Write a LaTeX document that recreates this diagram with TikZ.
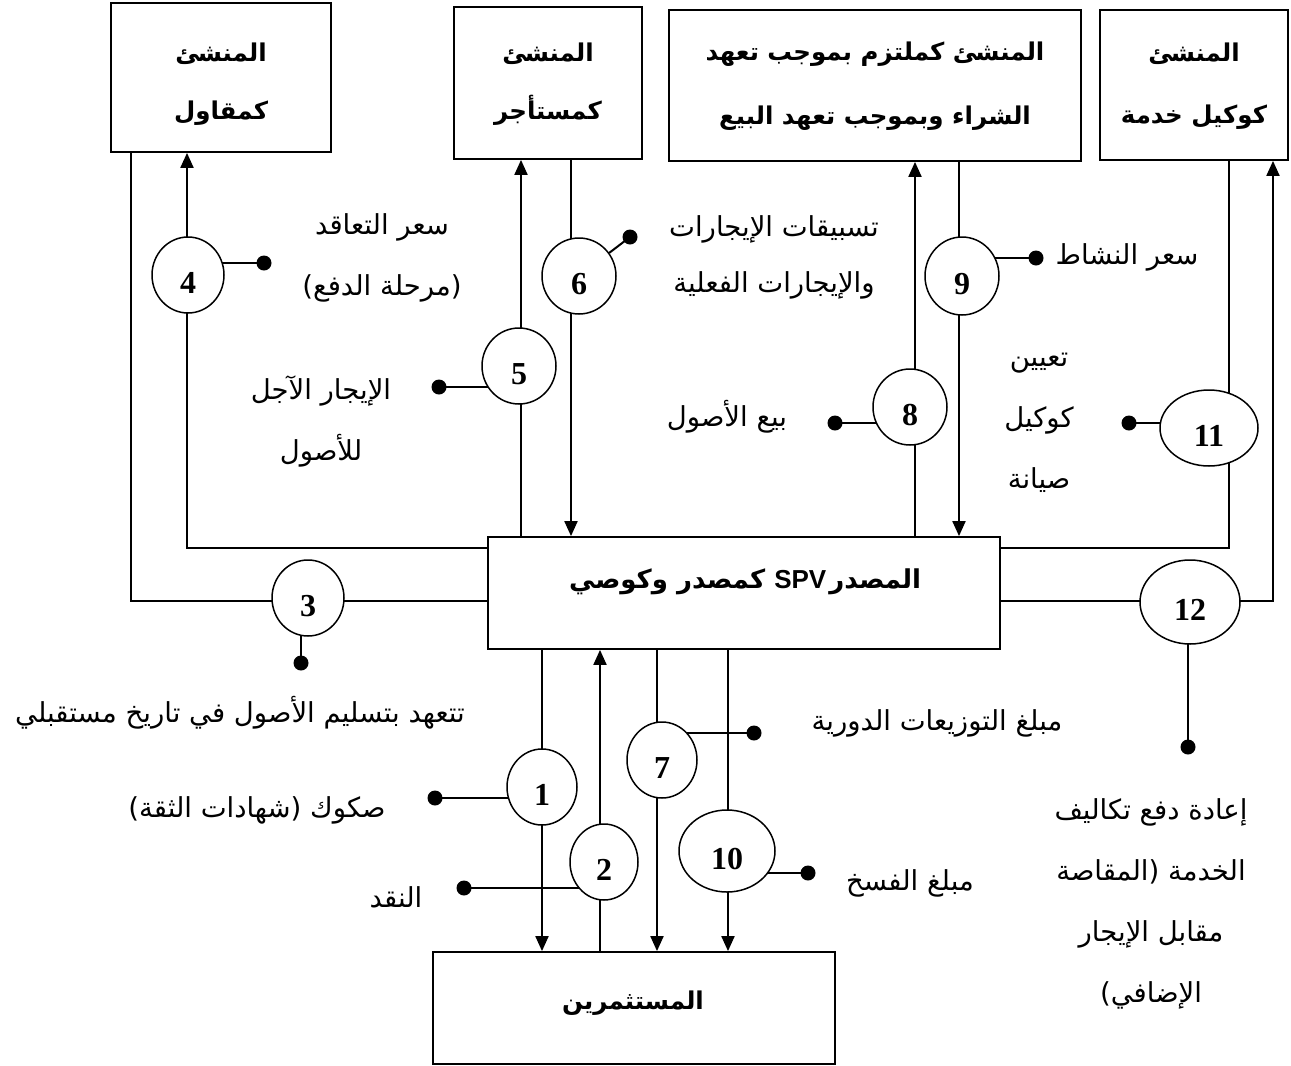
\documentclass[tikz,border=0pt]{standalone}
\usepackage{fontspec}
\usetikzlibrary{arrows.meta,backgrounds,shapes.geometric}
\TeXXeTstate=1
\newfontfamily\arabicfont[Script=Arabic]{DejaVu Sans}
\newfontfamily\numfont{Liberation Serif}
\newfontfamily\latinsans{Liberation Sans}
\newcommand\artxt[1]{{\arabicfont\beginR #1\endR}}

\tikzset{
  box/.style={draw, line width=1.8pt, inner sep=0pt},
  boxtext/.style={align=center, inner sep=0pt,
    font=\arabicfont\bfseries\fontsize{24.5}{58}\selectfont},
  num/.style={ellipse, draw, line width=1.5pt, fill=white, inner sep=0pt,
    text height=36pt, text depth=0pt,
    font=\numfont\bfseries\fontsize{32}{32}\selectfont},
  lbl/.style={align=center, inner sep=0pt,
    font=\arabicfont\fontsize{27.5}{61}\selectfont},
  link/.style={line width=1.4pt},
  arr/.style={line width=2pt, -{Triangle[width=13pt,length=15pt]}},
  tie/.style={line width=2pt},
}

\begin{document}
\begin{tikzpicture}[x=1pt,y=-1pt]
\useasboundingbox (0,0) rectangle (1291,1066);

% parties
\node[box, minimum width=220pt, minimum height=149pt] (A) at (221,77.5) {};
\node[box, minimum width=188pt, minimum height=152pt] (B) at (548,83) {};
\node[box, minimum width=412pt, minimum height=151pt] (C) at (875,85.5) {};
\node[box, minimum width=188pt, minimum height=150pt] (D) at (1194,85) {};
\node[box, minimum width=512pt, minimum height=112pt] (SPV) at (744,593) {};
\node[box, minimum width=402pt, minimum height=112pt] (INV) at (634,1008) {};

\node[boxtext] (At) at (A.center |- 0,84) {\artxt{المنشئ}\\\artxt{كمقاول}};
\node[boxtext] (Bt) at (B.center |- 0,84) {\artxt{المنشئ}\\\artxt{كمستأجر}};
\node[boxtext, font=\arabicfont\bfseries\fontsize{24.5}{64}\selectfont] (Ct) at (C.center |- 0,86)
  {\artxt{المنشئ كملتزم بموجب تعهد}\\\artxt{الشراء وبموجب تعهد البيع}};
\node[boxtext, font=\arabicfont\bfseries\fontsize{24.5}{62}\selectfont] (Dt) at (D.center |- 0,86)
  {\artxt{المنشئ}\\\artxt{كوكيل خدمة}};
\node[boxtext, font=\arabicfont\bfseries\fontsize{26}{30}\selectfont] (SPVt) at (745,582)
  {\artxt{المصدر\hspace{3pt}\beginL{\latinsans SPV}\endL{} كمصدر وكوصي}};
\node[boxtext] (INVt) at (633,1003) {\artxt{المستثمرين}};

% numbered steps
\node[num, minimum width=70pt, minimum height=76pt] (c1) at (542,787) {1};
\node[num, minimum width=68pt, minimum height=76pt] (c2) at (604,862) {2};
\node[num, minimum width=72pt, minimum height=76pt] (c3) at (308,598) {3};
\node[num, minimum width=72pt, minimum height=76pt] (c4) at (188,275) {4};
\node[num, minimum width=74pt, minimum height=76pt] (c5) at (519,366) {5};
\node[num, minimum width=74pt, minimum height=76pt] (c6) at (579,276) {6};
\node[num, minimum width=70pt, minimum height=76pt] (c7) at (662,760) {7};
\node[num, minimum width=74pt, minimum height=76pt] (c8) at (910,407) {8};
\node[num, minimum width=74pt, minimum height=78pt] (c9) at (962,276) {9};
\node[num, minimum width=96pt, minimum height=82pt] (c10) at (727,851) {10};
\node[num, minimum width=98pt, minimum height=76pt] (c11) at (1209,428) {11};
\node[num, minimum width=100pt, minimum height=84pt] (c12) at (1190,602) {12};

% vertical and horizontal tracks
\coordinate (v3) at (131,0);
\coordinate (v4) at (187,0);
\coordinate (v5) at (521,0);
\coordinate (v6) at (571,0);
\coordinate (v8) at (915,0);
\coordinate (v9) at (959,0);
\coordinate (v11) at (1229,0);
\coordinate (v12) at (1273,0);
\coordinate (v1) at (542,0);
\coordinate (v2) at (600,0);
\coordinate (v7) at (657,0);
\coordinate (v10) at (728,0);
\coordinate (hup) at (0,548);
\coordinate (hlow) at (0,601);

% dot ends
\coordinate (p1) at (435,798);
\coordinate (p2) at (464,888);
\coordinate (p3) at (301,663);
\coordinate (p4) at (264,263);
\coordinate (p5) at (439,387);
\coordinate (p6) at (630,237);
\coordinate (p7) at (754,733);
\coordinate (p8) at (835,423);
\coordinate (p9) at (1036,258);
\coordinate (p10) at (808,873);
\coordinate (p11) at (1129,423);
\coordinate (p12) at (1188,747);

\begin{scope}[on background layer]
  % upper flows
  \draw[link] (v3 |- A.south) -- (v3 |- hlow) -- (SPV.west |- hlow);
  \draw[link] (SPV.west |- hup) -- (v4 |- hup) -- (v4 |- c4);
  \draw[arr] (v4 |- c4) -- (v4 |- A.south);
  \draw[link] (v5 |- SPV.north) -- (v5 |- c5);
  \draw[arr] (v5 |- c5) -- (v5 |- B.south);
  \draw[link] (v6 |- B.south) -- (v6 |- c6);
  \draw[arr] (v6 |- c6) -- (v6 |- SPV.north);
  \draw[link] (v8 |- SPV.north) -- (v8 |- c8);
  \draw[arr] (v8 |- c8) -- (v8 |- C.south);
  \draw[link] (v9 |- C.south) -- (v9 |- c9);
  \draw[arr] (v9 |- c9) -- (v9 |- SPV.north);
  \draw[link] (v11 |- D.south) -- (v11 |- hup) -- (SPV.east |- hup);
  \draw[link] (SPV.east |- hlow) -- (c12.center |- hlow);
  \draw[arr] (c12.center |- hlow) -- (v12 |- hlow) -- (v12 |- D.south);
  % lower flows
  \draw[link] (v1 |- SPV.south) -- (v1 |- c1);
  \draw[arr] (v1 |- c1) -- (v1 |- INV.north);
  \draw[link] (v2 |- INV.north) -- (v2 |- c2);
  \draw[arr] (v2 |- c2) -- (v2 |- SPV.south);
  \draw[link] (v7 |- SPV.south) -- (v7 |- c7);
  \draw[arr] (v7 |- c7) -- (v7 |- INV.north);
  \draw[link] (v10 |- SPV.south) -- (v10 |- c10);
  \draw[arr] (v10 |- c10) -- (v10 |- INV.north);
  % label ties
  \draw[tie] (p1) -- (p1 -| c1);
  \draw[tie] (p2) -- (p2 -| c2);
  \draw[tie] (p3) -- (p3 |- c3);
  \draw[tie] (p4) -- (p4 -| c4);
  \draw[tie] (p5) -- (p5 -| c5);
  \draw[tie] (p6) -- (c6);
  \draw[tie] (p7) -- (p7 -| c7);
  \draw[tie] (p8) -- (p8 -| c8);
  \draw[tie] (p9) -- (p9 -| c9);
  \draw[tie] (p10) -- (p10 -| c10);
  \draw[tie] (p11) -- (p11 -| c11);
  \draw[tie] (p12) -- (p12 |- c12);
\end{scope}

\foreach \p in {p1,p2,p3,p4,p5,p6,p7,p8,p9,p10,p11,p12}
  \fill (\p) circle (7.5pt);

% labels
\node[lbl] (t4) at (382,258) {\artxt{سعر التعاقد}\\\artxt{(مرحلة الدفع)}};
\node[lbl, font=\arabicfont\fontsize{27.5}{56}\selectfont] (t6) at (774,257)
  {\artxt{تسبيقات الإيجارات}\\\artxt{والإيجارات الفعلية}};
\node[lbl] (t9) at (1127,257) {\artxt{سعر النشاط}};
\node[lbl] (t5) at (321,421) {\artxt{الإيجار الآجل}\\\artxt{للأصول}};
\node[lbl] (t8) at (727,417) {\artxt{بيع الأصول}};
\node[lbl] (t11) at (1039,423) {\artxt{تعيين}\\\artxt{كوكيل}\\\artxt{صيانة}};
\node[lbl] (t3) at (240,713) {\artxt{تتعهد بتسليم الأصول في تاريخ مستقبلي}};
\node[lbl] (t7) at (937,723) {\artxt{مبلغ التوزيعات الدورية}};
\node[lbl] (t1) at (257,810) {\artxt{صكوك (شهادات الثقة)}};
\node[lbl] (t2) at (396,897) {\artxt{النقد}};
\node[lbl] (t10) at (910,883) {\artxt{مبلغ الفسخ}};
\node[lbl] (t12) at (1151,904) {\artxt{إعادة دفع تكاليف}\\\artxt{الخدمة (المقاصة}\\\artxt{مقابل الإيجار}\\\artxt{الإضافي)}};
\end{tikzpicture}
\end{document}
